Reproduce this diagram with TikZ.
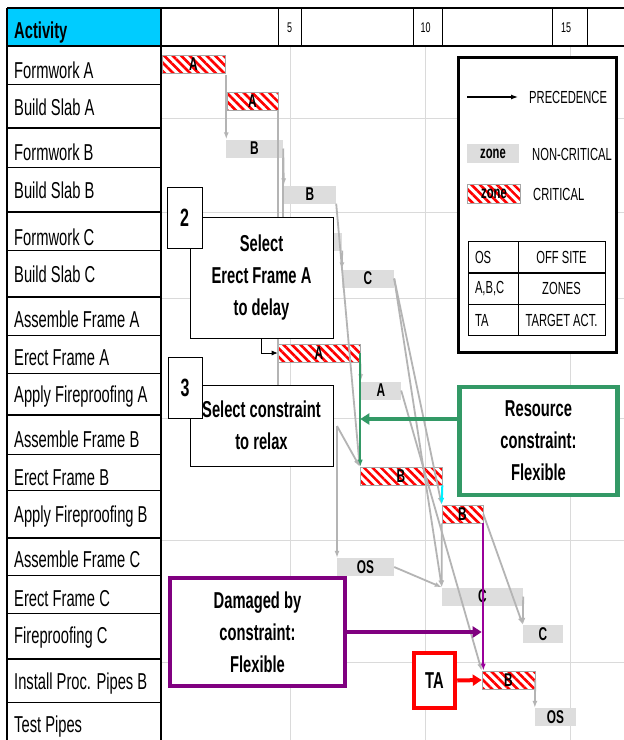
\documentclass[tikz,border=0pt]{standalone}
\usepackage{fontspec}
\setmainfont{Liberation Sans}[FakeStretch=0.64]
\usetikzlibrary{arrows.meta,patterns.meta,calc}

\definecolor{hdrcyan}{HTML}{00CCFF}
\definecolor{barg}{HTML}{DDDDDD}
\definecolor{precg}{HTML}{B4B4B4}
\definecolor{gridg}{HTML}{DADADA}
\definecolor{resgreen}{HTML}{339966}
\definecolor{dmgpurple}{HTML}{800080}
\definecolor{tared}{HTML}{FF0000}
\definecolor{flowcyan}{HTML}{00F0FF}

\newcommand{\lblfont}{\fontsize{23}{26}\selectfont}
\newcommand{\hdrfont}{\fontsize{23}{26}\selectfont\bfseries}
\newcommand{\boxfont}{\fontsize{23}{32}\selectfont\bfseries}
\newcommand{\barfont}{\fontsize{18.5}{19}\selectfont\bfseries}
\newcommand{\legfont}{\fontsize{17.5}{19}\selectfont}
\newcommand{\tickfont}{\fontsize{14}{15}\selectfont}
\newcommand{\numfont}{\fontsize{25}{26}\selectfont\bfseries}

\begin{document}
\begin{tikzpicture}[x=1pt,y=-1pt,
  crit/.style={draw=gray!70, line width=0.6pt, preaction={fill=white},
    pattern={Lines[angle=-45,distance=6pt,line width=2.6pt]}, pattern color=red,
    minimum height=18pt, inner sep=0pt, font=\barfont},
  ncrit/.style={fill=barg, minimum height=18pt, inner sep=0pt, font=\barfont},
  prec/.style={draw=precg, line width=1.8pt, -{Latex[length=7pt,width=5pt]}},
  rowlab/.style={anchor=base west, inner sep=0pt, font=\lblfont},
  note/.style={draw=black, line width=0.7pt, fill=white, align=center, font=\boxfont, inner sep=0pt},
  numbox/.style={draw=black, line width=0.7pt, fill=white, font=\numfont, inner sep=0pt},
  callout/.style={draw=#1, line width=4.5pt, fill=white, align=center, font=\boxfont, inner sep=0pt},
  lgcell/.style={draw=black, line width=0.8pt, font=\legfont, minimum height=31pt, inner sep=0pt},
  leglab/.style={anchor=west, inner sep=0pt, font=\legfont},
  thinrow/.style={line width=0.9pt},
  grouprow/.style={line width=2.6pt}
]
\useasboundingbox (0,0) rectangle (624,740);
\fill[white] (0,0) rectangle (624,740);

% ---- time grid ----
\foreach \gx in {290,425,570} \draw[gridg,line width=0.8pt] (\gx,46) -- (\gx,740);
\foreach \gy in {118,212,298,418,540,662} \draw[gridg,line width=0.8pt] (161,\gy) -- (624,\gy);

% ---- header row ----
\fill[hdrcyan] (7,8) rectangle (161,46);
\foreach \hx in {278,301,413,442,552,587} \draw[line width=0.8pt] (\hx,8) -- (\hx,46);
\node[anchor=base west, inner sep=0pt, font=\hdrfont] (acth) at (14,38.5) {Activity};
\node[font=\tickfont, inner sep=0pt] (t5) at (289.5,27.5) {5};
\node[font=\tickfont, inner sep=0pt] (t10) at (425.5,27.5) {10};
\node[font=\tickfont, inner sep=0pt] (t15) at (566,27.5) {15};

% ---- activity table ----
\foreach \ry in {84,167,250,335,373,454,490,575,613,702} \draw[thinrow] (7,\ry) -- (161,\ry);
\foreach \ry in {128,212,297,415,538,659} \draw[grouprow] (7,\ry) -- (161,\ry);
\draw[line width=2.6pt] (7,8) -- (624,8);
\draw[line width=2.6pt] (7,46) -- (624,46);
\draw[line width=2pt] (7,8) -- (7,740);
\draw[line width=2.6pt] (161,8) -- (161,740);

\node[rowlab] (l1) at (14,78) {Formwork A};
\node[rowlab] (l2) at (14,115) {Build Slab A};
\node[rowlab] (l3) at (14,160) {Formwork B};
\node[rowlab] (l4) at (14,198) {Build Slab B};
\node[rowlab] (l5) at (14,245) {Formwork C};
\node[rowlab] (l6) at (14,282) {Build Slab C};
\node[rowlab] (l7) at (14,327) {Assemble Frame A};
\node[rowlab] (l8) at (14,365) {Erect Frame A};
\node[rowlab] (l9) at (14,402) {Apply Fireproofing A};
\node[rowlab] (l10) at (14,447) {Assemble Frame B};
\node[rowlab] (l11) at (14,485) {Erect Frame B};
\node[rowlab] (l12) at (14,522) {Apply Fireproofing B};
\node[rowlab] (l13) at (14,567) {Assemble Frame C};
\node[rowlab] (l14) at (14,606) {Erect Frame C};
\node[rowlab] (l15) at (14,643) {Fireproofing C};
\node[rowlab] (l16) at (14,689) {Install Proc. Pipes B};
\node[rowlab] (l17) at (14,732) {Test Pipes};

% ---- activity bars ----
\node[crit, minimum width=63pt] (fwa) at (193.5,64.5) {A};
\node[crit, minimum width=51pt] (bsa) at (252.5,101) {A};
\node[ncrit, minimum width=57pt] (fwb) at (254.5,148.5) {B};
\node[ncrit, minimum width=52pt] (bsb) at (310,194.5) {B};
\node[ncrit, minimum width=62pt] (fwc) at (311,241.5) {};
\node[ncrit, minimum width=52pt] (bsc) at (368,278.5) {C};
\node[crit, minimum width=82pt] (efa) at (319,353) {A};
\node[ncrit, minimum width=40pt] (apfa) at (381,390.5) {A};
\node[crit, minimum width=82pt] (efb) at (401,476) {B};
\node[crit, minimum width=41pt] (apfb) at (462.5,514) {B};
\node[ncrit, minimum width=57pt] (afc) at (365.5,567) {OS};
\node[ncrit, minimum width=81pt] (efc) at (482.5,596.5) {C};
\node[ncrit, minimum width=40pt] (fpc) at (543,634) {C};
\node[crit, minimum width=53pt] (ipb) at (508.5,680) {B};
\node[ncrit, minimum width=41pt] (tp) at (555.5,717) {OS};
\coordinate (afb) at (337,426);

% ---- precedence links ----
\draw[prec] (fwa.south east) -- (fwa.south east |- fwb.north);
\draw[prec] (bsa.south east) -- (bsa.south east |- afb);
\draw[prec] (fwb.east) -- (bsb.north west);
\draw[prec] (fwb.south east) -- (fwb.south east |- fwc.north);
\draw[prec] (bsb.south east) -- (efb.north west);
\draw[prec] (fwc.south east) -- (bsc.north west);
\draw[prec] (bsc.east) -- (apfb.north west);
\draw[prec] (bsc.east) -- (efc.north west);
\draw[prec] (efa.south east) -- (apfa.north west);
\draw[prec] (apfa.east) -- (ipb.north west);
\draw[prec] (afb) -- (efb.north west);
\draw[prec] (afb) -- (afb |- afc.north);
\draw[prec] (apfb.south west) -- (efc.north west);
\draw[prec] (afc.east) -- (efc.north west);
\draw[prec] (apfb.east) -- (fpc.north west);
\draw[prec] (efc.east) -- (fpc.north west);
\draw[prec] (ipb.east) -- (tp.north west);

% ---- relaxed constraint and damaged link ----
\draw[resgreen, line width=1.8pt, -{Latex[length=7pt,width=5pt]}] (efa.east) -- (efa.east |- efb.north);
\draw[flowcyan, line width=2pt, -{Latex[length=7pt,width=5pt]}] (efb.south east) -- (apfb.north west);
\draw[dmgpurple!80!magenta, line width=2pt, -{Latex[length=7pt,width=5pt]}] (apfb.south east) -- (apfb.south east |- ipb.north);

% ---- step notes ----
\node[note, minimum width=143pt, minimum height=121pt] (sel2) at (261.5,277.5) {Select\\Erect Frame A\\to delay};
\node[numbox, minimum width=35pt, minimum height=61pt] (n2) at (184.5,217.5) {2};
\node[note, minimum width=143pt, minimum height=81pt] (sel3) at (261.5,425.5) {Select constraint\\to relax};
\node[numbox, minimum width=34pt, minimum height=61pt] (n3) at (185,387.5) {3};
\draw[line width=0.8pt, -{Latex[length=6pt,width=5pt]}] (sel2.south) |- (efa.west);

% ---- callouts ----
\node[callout=resgreen, minimum width=158pt, minimum height=108pt] (res) at (538.5,441) {Resource\\constraint:\\Flexible};
\node[callout=dmgpurple, minimum width=175pt, minimum height=108pt] (dmg) at (257.5,632) {Damaged by\\constraint:\\Flexible};
\node[callout=tared, minimum width=41pt, minimum height=55pt] (ta) at (434.5,680.5) {TA};
\coordinate (resin) at ([yshift=22pt]res.west);
\draw[resgreen, line width=4pt, -{Triangle[length=9pt,width=11pt]}] (resin) -- (resin -| efa.east);
\draw[dmgpurple, line width=4pt, -{Triangle[length=9pt,width=11pt]}] (dmg.east) -- (dmg.east -| ipb.west);
\draw[tared, line width=4pt, -{Triangle[length=9pt,width=11pt]}] (ta.east) -- (ipb.west);

% ---- legend ----
\node[draw=black, line width=3pt, fill=white, minimum width=158pt, minimum height=295pt, inner sep=0pt] (legend) at (537.5,205) {};
\coordinate (pa) at (467,97);
\coordinate (pb) at (518,97);
\draw[line width=1.2pt, -{Latex[length=7pt,width=5pt]}] (pa) -- (pb);
\node[leglab] (precl) at (529,97) {PRECEDENCE};
\node[fill=barg, minimum width=52pt, minimum height=19pt, inner sep=0pt, font=\legfont\bfseries] (zg) at (493,153.5) {zone};
\node[leglab] (ncl) at (532,154.5) {NON-CRITICAL};
\node[crit, minimum width=53pt, minimum height=19pt, font=\legfont\bfseries] (zr) at (494,193.5) {zone};
\node[leglab] (crl) at (533,194) {CRITICAL};
\node[lgcell, minimum width=50pt, text width=36pt, inner xsep=7pt, align=left] (k1) at (493,257) {OS};
\node[lgcell, minimum width=87pt] (v1) at (561.5,257) {OFF SITE};
\node[lgcell, minimum width=50pt, text width=36pt, inner xsep=7pt, align=left] (k2) at (493,288.5) {A,B,C};
\node[lgcell, minimum width=87pt] (v2) at (561.5,288.5) {ZONES};
\node[lgcell, minimum width=50pt, text width=36pt, inner xsep=7pt, align=left] (k3) at (493,320) {TA};
\node[lgcell, minimum width=87pt] (v3) at (561.5,320) {TARGET ACT.};
\end{tikzpicture}
\end{document}
